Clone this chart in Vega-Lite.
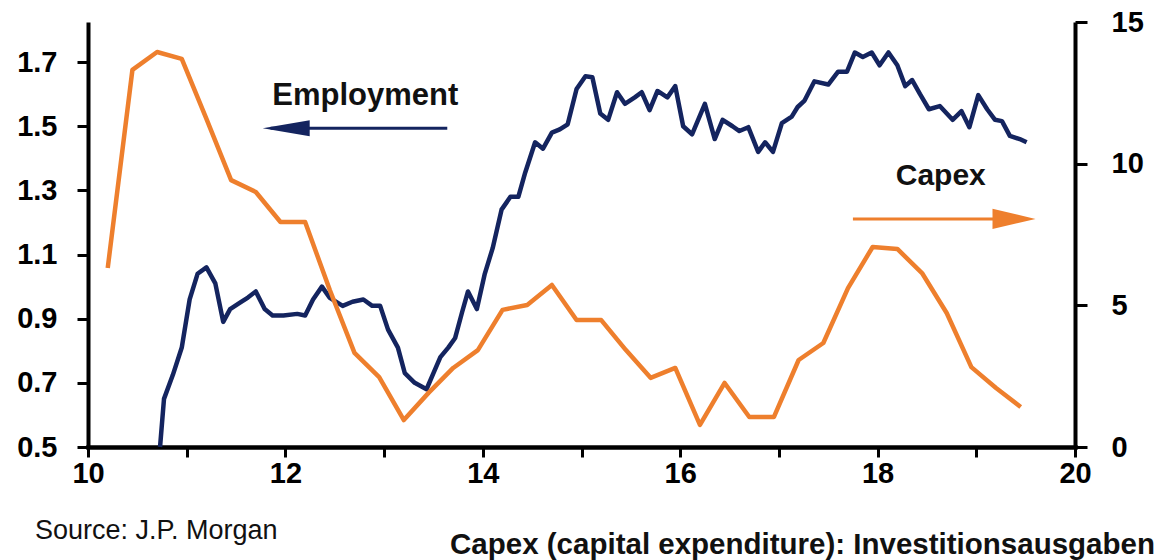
{
  "$schema": "https://vega.github.io/schema/vega-lite/v6.json",
  "width": 987,
  "height": 425,
  "autosize": {"type": "none"},
  "padding": {"left": 88, "top": 22, "right": 84, "bottom": 113},
  "background": "white",
  "config": {"view": {"stroke": null}, "font": "Liberation Sans"},
  "data": {"values": [{"note": "annotation"}]},
  "datasets": {
    "employment": [
      {"x": 10.73, "y": 0.5}, {"x": 10.77, "y": 0.65}, {"x": 10.86, "y": 0.725}, {"x": 10.95, "y": 0.81},
      {"x": 11.03, "y": 0.96}, {"x": 11.11, "y": 1.04}, {"x": 11.2, "y": 1.06}, {"x": 11.29, "y": 1.01},
      {"x": 11.37, "y": 0.89}, {"x": 11.44, "y": 0.93}, {"x": 11.54, "y": 0.95}, {"x": 11.62, "y": 0.966},
      {"x": 11.7, "y": 0.985}, {"x": 11.79, "y": 0.93}, {"x": 11.87, "y": 0.91}, {"x": 11.98, "y": 0.91},
      {"x": 12.12, "y": 0.915}, {"x": 12.2, "y": 0.91}, {"x": 12.28, "y": 0.96}, {"x": 12.37, "y": 1.0},
      {"x": 12.45, "y": 0.965}, {"x": 12.58, "y": 0.94}, {"x": 12.68, "y": 0.953}, {"x": 12.79, "y": 0.96},
      {"x": 12.88, "y": 0.94}, {"x": 12.96, "y": 0.94}, {"x": 13.04, "y": 0.866}, {"x": 13.14, "y": 0.81},
      {"x": 13.21, "y": 0.73}, {"x": 13.31, "y": 0.7}, {"x": 13.43, "y": 0.68}, {"x": 13.5, "y": 0.73},
      {"x": 13.57, "y": 0.78}, {"x": 13.65, "y": 0.81}, {"x": 13.72, "y": 0.84}, {"x": 13.79, "y": 0.92},
      {"x": 13.85, "y": 0.985}, {"x": 13.94, "y": 0.93}, {"x": 14.02, "y": 1.04}, {"x": 14.1, "y": 1.12},
      {"x": 14.19, "y": 1.24}, {"x": 14.28, "y": 1.28}, {"x": 14.36, "y": 1.28}, {"x": 14.43, "y": 1.356},
      {"x": 14.53, "y": 1.45}, {"x": 14.61, "y": 1.43}, {"x": 14.7, "y": 1.48}, {"x": 14.78, "y": 1.49},
      {"x": 14.86, "y": 1.506}, {"x": 14.95, "y": 1.616}, {"x": 15.04, "y": 1.656}, {"x": 15.11, "y": 1.653},
      {"x": 15.19, "y": 1.54}, {"x": 15.27, "y": 1.52}, {"x": 15.36, "y": 1.606}, {"x": 15.44, "y": 1.57},
      {"x": 15.54, "y": 1.59}, {"x": 15.61, "y": 1.606}, {"x": 15.69, "y": 1.55}, {"x": 15.77, "y": 1.61},
      {"x": 15.87, "y": 1.59}, {"x": 15.95, "y": 1.625}, {"x": 16.03, "y": 1.5}, {"x": 16.12, "y": 1.475},
      {"x": 16.25, "y": 1.57}, {"x": 16.35, "y": 1.46}, {"x": 16.43, "y": 1.52}, {"x": 16.53, "y": 1.5},
      {"x": 16.6, "y": 1.485}, {"x": 16.69, "y": 1.497}, {"x": 16.79, "y": 1.42}, {"x": 16.86, "y": 1.45},
      {"x": 16.94, "y": 1.42}, {"x": 17.03, "y": 1.51}, {"x": 17.13, "y": 1.53}, {"x": 17.19, "y": 1.56},
      {"x": 17.26, "y": 1.58}, {"x": 17.36, "y": 1.64}, {"x": 17.5, "y": 1.63}, {"x": 17.6, "y": 1.67},
      {"x": 17.69, "y": 1.67}, {"x": 17.77, "y": 1.73}, {"x": 17.85, "y": 1.716}, {"x": 17.94, "y": 1.73},
      {"x": 18.02, "y": 1.69}, {"x": 18.11, "y": 1.73}, {"x": 18.2, "y": 1.69}, {"x": 18.28, "y": 1.625},
      {"x": 18.35, "y": 1.644}, {"x": 18.43, "y": 1.6}, {"x": 18.52, "y": 1.553}, {"x": 18.63, "y": 1.563},
      {"x": 18.76, "y": 1.52}, {"x": 18.85, "y": 1.547}, {"x": 18.93, "y": 1.497}, {"x": 19.02, "y": 1.597},
      {"x": 19.11, "y": 1.553}, {"x": 19.19, "y": 1.52}, {"x": 19.26, "y": 1.516}, {"x": 19.34, "y": 1.47},
      {"x": 19.44, "y": 1.46}, {"x": 19.51, "y": 1.45}
    ],
    "capex": [
      {"x": 10.2, "y": 6.32}, {"x": 10.45, "y": 13.31}, {"x": 10.7, "y": 13.94}, {"x": 10.95, "y": 13.7},
      {"x": 11.2, "y": 11.58}, {"x": 11.45, "y": 9.42}, {"x": 11.7, "y": 9.0}, {"x": 11.95, "y": 7.94},
      {"x": 12.2, "y": 7.94}, {"x": 12.45, "y": 5.54}, {"x": 12.7, "y": 3.32}, {"x": 12.95, "y": 2.47},
      {"x": 13.2, "y": 0.95}, {"x": 13.45, "y": 1.91}, {"x": 13.7, "y": 2.79}, {"x": 13.95, "y": 3.42},
      {"x": 14.2, "y": 4.84}, {"x": 14.45, "y": 5.01}, {"x": 14.7, "y": 5.72}, {"x": 14.95, "y": 4.48},
      {"x": 15.2, "y": 4.48}, {"x": 15.45, "y": 3.42}, {"x": 15.7, "y": 2.44}, {"x": 15.95, "y": 2.79},
      {"x": 16.2, "y": 0.78}, {"x": 16.45, "y": 2.26}, {"x": 16.7, "y": 1.06}, {"x": 16.95, "y": 1.06},
      {"x": 17.2, "y": 3.07}, {"x": 17.45, "y": 3.67}, {"x": 17.7, "y": 5.61}, {"x": 17.95, "y": 7.06},
      {"x": 18.2, "y": 6.99}, {"x": 18.45, "y": 6.14}, {"x": 18.7, "y": 4.73}, {"x": 18.95, "y": 2.82},
      {"x": 19.2, "y": 2.08}, {"x": 19.45, "y": 1.41}
    ]
  },
  "layer": [
    {
      "layer": [
        {
          "data": {"name": "employment"},
          "mark": {"type": "line", "color": "#14245f", "strokeWidth": 4.5, "strokeJoin": "round", "clip": false},
          "encoding": {
            "x": {
              "field": "x", "type": "quantitative",
              "scale": {"domain": [10, 20], "nice": false, "zero": false},
              "axis": {
                "values": [10, 11, 12, 13, 14, 15, 16, 17, 18, 19, 20],
                "format": "d",
                "labelExpr": "datum.value % 2 == 0 ? datum.label : ''",
                "title": null, "grid": false,
                "domainColor": "black", "domainWidth": 4.5, "domainCap": "square",
                "tickColor": "black", "tickWidth": 3, "tickSize": 10,
                "labelFontSize": 29, "labelFontWeight": "bold", "labelColor": "black",
                "labelFont": "Liberation Sans", "labelPadding": 2, "labelFlush": false
              }
            },
            "y": {
              "field": "y", "type": "quantitative",
              "scale": {"domain": [0.5, 1.825], "nice": false, "zero": false},
              "axis": {
                "orient": "left",
                "values": [0.5, 0.7, 0.9, 1.1, 1.3, 1.5, 1.7],
                "format": ".1f",
                "title": null, "grid": false,
                "domainColor": "black", "domainWidth": 4,
                "tickColor": "black", "tickWidth": 3, "tickSize": 11,
                "labelFontSize": 29, "labelFontWeight": "bold", "labelColor": "black",
                "labelFont": "Liberation Sans", "labelPadding": 20, "labelFlush": false
              }
            }
          }
        },
        {
          "mark": {"type": "text", "text": "Employment", "font": "Liberation Sans", "fontSize": 31, "fontWeight": "bold", "color": "#111111", "align": "center", "baseline": "middle"},
          "encoding": {
            "x": {"datum": 12.81, "type": "quantitative"},
            "y": {"datum": 1.594, "type": "quantitative"}
          }
        },
        {
          "mark": {"type": "rule", "color": "#14245f", "strokeWidth": 3},
          "encoding": {
            "x": {"datum": 11.85, "type": "quantitative"},
            "x2": {"datum": 13.64},
            "y": {"datum": 1.494, "type": "quantitative"}
          }
        },
        {
          "mark": {"type": "point", "shape": "M 0 0 L 2 -0.34 L 2 0.34 Z", "size": 2209, "filled": true, "color": "#14245f", "opacity": 1, "strokeWidth": 0},
          "encoding": {
            "x": {"datum": 11.77, "type": "quantitative"},
            "y": {"datum": 1.494, "type": "quantitative"}
          }
        },
        {
          "mark": {"type": "text", "text": "Source: J.P. Morgan", "font": "Liberation Sans", "fontSize": 27, "color": "#111111", "align": "left", "baseline": "middle"},
          "encoding": {
            "x": {"datum": 9.463, "type": "quantitative"},
            "y": {"datum": 0.238, "type": "quantitative"}
          }
        },
        {
          "mark": {"type": "text", "text": "Capex (capital expenditure): Investitionsausgaben", "font": "Liberation Sans", "fontSize": 29.5, "fontWeight": "bold", "color": "#111111", "align": "right", "baseline": "middle"},
          "encoding": {
            "x": {"datum": 20.81, "type": "quantitative"},
            "y": {"datum": 0.194, "type": "quantitative"}
          }
        }
      ]
    },
    {
      "layer": [
        {
          "data": {"name": "capex"},
          "mark": {"type": "line", "color": "#ee7f2d", "strokeWidth": 4.5, "strokeJoin": "round", "clip": false},
          "encoding": {
            "x": {"field": "x", "type": "quantitative"},
            "y": {
              "field": "y", "type": "quantitative",
              "scale": {"domain": [0, 15], "nice": false, "zero": false},
              "axis": {
                "orient": "right",
                "values": [0, 5, 10, 15],
                "title": null, "grid": false,
                "domainColor": "black", "domainWidth": 4,
                "tickColor": "black", "tickWidth": 3, "tickSize": 12,
                "labelFontSize": 29, "labelFontWeight": "bold", "labelColor": "black",
                "labelFont": "Liberation Sans", "labelPadding": 24, "labelFlush": false
              }
            }
          }
        },
        {
          "mark": {"type": "text", "text": "Capex", "font": "Liberation Sans", "fontSize": 30, "fontWeight": "bold", "color": "#111111", "align": "center", "baseline": "middle"},
          "encoding": {
            "x": {"datum": 18.64, "type": "quantitative"},
            "y": {"datum": 9.57, "type": "quantitative"}
          }
        },
        {
          "mark": {"type": "rule", "color": "#ee7f2d", "strokeWidth": 3},
          "encoding": {
            "x": {"datum": 17.75, "type": "quantitative"},
            "x2": {"datum": 19.5},
            "y": {"datum": 8.05, "type": "quantitative"}
          }
        },
        {
          "mark": {"type": "point", "shape": "M 0 0 L -2 -0.47 L -2 0.47 Z", "size": 1849, "filled": true, "color": "#ee7f2d", "opacity": 1, "strokeWidth": 0},
          "encoding": {
            "x": {"datum": 19.6, "type": "quantitative"},
            "y": {"datum": 8.05, "type": "quantitative"}
          }
        }
      ]
    }
  ],
  "resolve": {"scale": {"y": "independent"}}
}
